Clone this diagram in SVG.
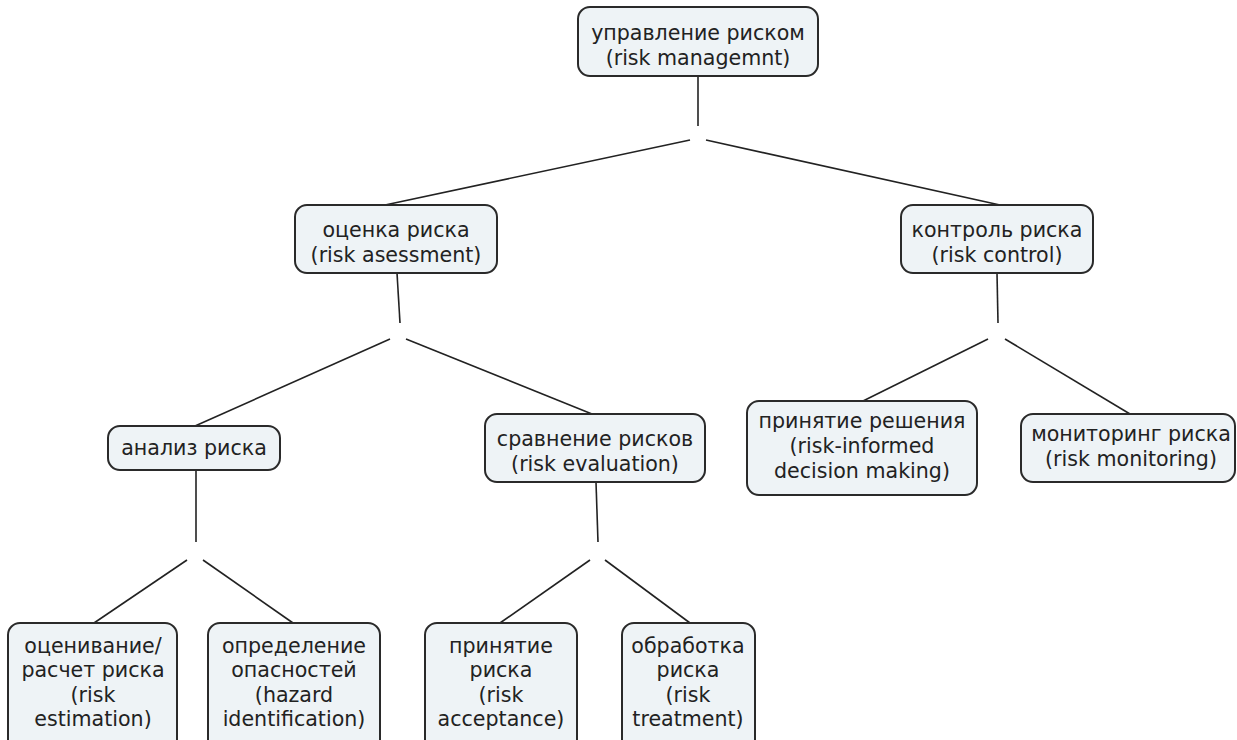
<svg xmlns="http://www.w3.org/2000/svg" width="1237" height="740" viewBox="0 0 1237 740">
<style>
.box{fill:#eef3f6;stroke:#2a2a2a;stroke-width:2}
.t{font-family:"DejaVu Sans",Verdana,sans-serif;font-size:20.6px;fill:#222;text-anchor:middle}
.c{stroke:#222;stroke-width:1.6;fill:none}
</style>
<rect width="1237" height="740" fill="#ffffff"/>
<g id="connectors">
<line class="c" x1="698" y1="76" x2="698" y2="126"/>
<line class="c" x1="690" y1="140" x2="385" y2="205"/>
<line class="c" x1="706" y1="140" x2="1000" y2="205"/>
<line class="c" x1="397" y1="273" x2="400" y2="323"/>
<line class="c" x1="390" y1="339" x2="195" y2="426"/>
<line class="c" x1="406" y1="339" x2="592" y2="414"/>
<line class="c" x1="997" y1="273" x2="998" y2="323"/>
<line class="c" x1="988" y1="339" x2="863" y2="401"/>
<line class="c" x1="1005" y1="339" x2="1130" y2="414"/>
<line class="c" x1="196" y1="470" x2="196" y2="542"/>
<line class="c" x1="187" y1="560" x2="94" y2="623"/>
<line class="c" x1="203" y1="560" x2="293" y2="623"/>
<line class="c" x1="596" y1="482" x2="598" y2="542"/>
<line class="c" x1="590" y1="560" x2="500" y2="623"/>
<line class="c" x1="605" y1="560" x2="690" y2="623"/>
</g>
<g id="n-root"><rect class="box" x="578" y="7" width="240" height="69" rx="12"/><text class="t" x="698" y="40">управление риском</text><text class="t" x="698" y="65">(risk managemnt)</text></g>
<g id="n-assess"><rect class="box" x="295" y="205" width="202" height="68" rx="12"/><text class="t" x="396" y="237">оценка риска</text><text class="t" x="396" y="262">(risk asessment)</text></g>
<g id="n-control"><rect class="box" x="901" y="205" width="192" height="68" rx="12"/><text class="t" x="997" y="237">контроль риска</text><text class="t" x="997" y="262">(risk control)</text></g>
<g id="n-analysis"><rect class="box" x="108" y="426" width="172" height="44" rx="12"/><text class="t" x="194" y="455">анализ риска</text></g>
<g id="n-eval"><rect class="box" x="485" y="414" width="220" height="68" rx="12"/><text class="t" x="595" y="446">сравнение рисков</text><text class="t" x="595" y="471">(risk evaluation)</text></g>
<g id="n-decision"><rect class="box" x="747" y="401" width="230" height="94" rx="12"/><text class="t" x="862" y="428">принятие решения</text><text class="t" x="862" y="453">(risk-informed</text><text class="t" x="862" y="478">decision making)</text></g>
<g id="n-monitor"><rect class="box" x="1021" y="414" width="214" height="68" rx="12"/><text class="t" x="1131" y="441">мониторинг риска</text><text class="t" x="1131" y="466">(risk monitoring)</text></g>
<g id="n-estim"><rect class="box" x="8" y="623" width="169" height="130" rx="12"/><text class="t" x="93" y="653">оценивание/</text><text class="t" x="93" y="677">расчет риска</text><text class="t" x="93" y="702">(risk</text><text class="t" x="93" y="726">estimation)</text></g>
<g id="n-hazard"><rect class="box" x="208" y="623" width="172" height="130" rx="12"/><text class="t" x="294" y="653">определение</text><text class="t" x="294" y="677">опасностей</text><text class="t" x="294" y="702">(hazard</text><text class="t" x="294" y="726">identification)</text></g>
<g id="n-accept"><rect class="box" x="425" y="623" width="152" height="130" rx="12"/><text class="t" x="501" y="653">принятие</text><text class="t" x="501" y="677">риска</text><text class="t" x="501" y="702">(risk</text><text class="t" x="501" y="726">acceptance)</text></g>
<g id="n-treat"><rect class="box" x="622" y="623" width="133" height="130" rx="12"/><text class="t" x="688" y="653">обработка</text><text class="t" x="688" y="677">риска</text><text class="t" x="688" y="702">(risk</text><text class="t" x="688" y="726">treatment)</text></g>
</svg>
